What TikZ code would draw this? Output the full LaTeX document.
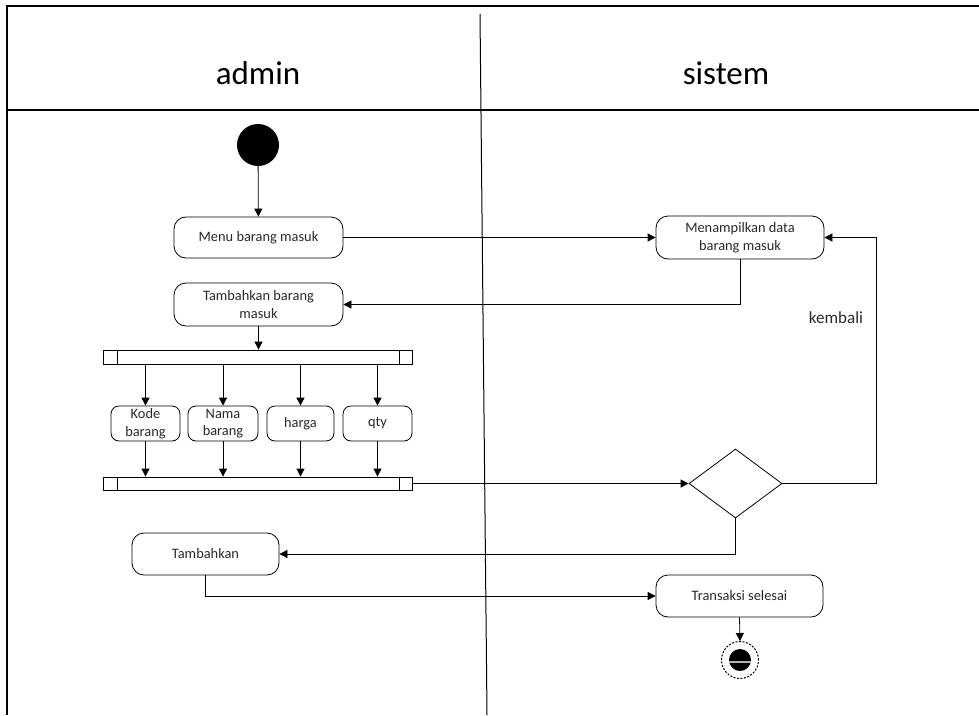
\documentclass[tikz,border=0pt]{standalone}
\usepackage{fontspec}
\setmainfont{Carlito}
\usetikzlibrary{arrows.meta,shapes.geometric}
\definecolor{txt}{RGB}{40,40,40}
\tikzset{
  act/.style={draw, line width=0.8pt, rounded corners=12pt, align=center, text=txt,
    font=\fontsize{14.4}{17.5}\selectfont, inner sep=0pt},
  small/.style={draw, line width=0.8pt, rounded corners=8pt, align=center, text=txt,
    font=\fontsize{14.4}{17.5}\selectfont, inner sep=0pt, minimum height=35pt},
  bar/.style={draw, line width=0.8pt, inner sep=0pt, minimum width=309pt},
  flow/.style={line width=0.8pt, -{Triangle[length=8pt,width=8pt]}},
  plain/.style={line width=0.8pt},
  lane/.style={font=\fontsize{33}{38}\selectfont, text=black}
}
\begin{document}
\begin{tikzpicture}[x=1pt,y=-1pt]
\useasboundingbox (0,0) rectangle (979,715);
% frame
\draw[line width=2.2pt] (7,715) -- (7,6) -- (979,6);
\draw[line width=1.3pt] (7,110) -- (979,110);
\draw[line width=1pt] (480,14) -- (487,715);
\node[lane] (ladmin) at (258,73) {admin};
\node[lane] (lsistem) at (726,73) {sistem};
% nodes
\node[circle, fill=black, minimum size=42pt, inner sep=0pt] (start) at (258,145) {};
\node[act, minimum width=169pt, minimum height=41pt] (menu) at (258.5,237.5) {Menu barang masuk};
\node[act, minimum width=169pt, minimum height=43pt] (tambah1) at (258.5,304.5) {Tambahkan barang\\masuk};
\node[act, minimum width=168pt, minimum height=43pt] (tampil) at (740,237.5) {Menampilkan data\\barang masuk};
\node[bar, minimum height=14pt] (fork1) at (257.5,357) {};
\draw[plain] (117,350) -- (117,364) (399,350) -- (399,364);
\node[small, minimum width=69pt] (kode) at (145.5,423.5) {Kode\\barang};
\node[small, minimum width=70pt] (nama) at (223,423.5) {Nama\\barang};
\node[small, minimum width=67pt] (harga) at (300.5,423.5) {harga};
\node[small, minimum width=69pt] (qty) at (377.5,423.5) {qty};
\node[bar, minimum height=13pt] (fork2) at (257.5,483.5) {};
\draw[plain] (117,477) -- (117,490) (399,477) -- (399,490);
\node[diamond, draw, line width=0.8pt, inner sep=0pt, minimum width=93pt, minimum height=69pt] (dec) at (735.5,483.5) {};
\node[act, minimum width=147pt, minimum height=42pt] (tambah2) at (205.5,554) {Tambahkan};
\node[act, minimum width=167pt, minimum height=42pt] (selesai) at (739.5,596) {Transaksi selesai};
% end node
\node[circle, draw, dashed, dash pattern=on 2pt off 1.5pt, line width=1pt, minimum size=37pt, inner sep=0pt] (end) at (740,660) {};
\fill[black] (740,660) circle (11pt);
\draw[gray!60, line width=1.2pt] (729,662) -- (751,662);
% connectors
\draw[flow] (start) -- (menu);
\draw[flow] (menu.east) -- (tampil.west);
\draw[flow] (tampil.south) |- (tambah1.east);
\draw[flow] (tambah1.south) -- (tambah1.south |- fork1.north);
\foreach \n in {kode,nama,harga,qty}{
  \draw[flow] (\n.north |- fork1.south) -- (\n.north);
  \draw[flow] (\n.south) -- (\n.south |- fork2.north);
}
\draw[flow] (fork2.east) -- (dec.west);
\coordinate (kret) at (876,483.5);
\draw[flow] (dec.east) -- (kret) |- (tampil.east);
\node[font=\fontsize{17}{20}\selectfont, text=txt] (kembali) at (836,318) {kembali};
\draw[flow] (dec.south) |- (tambah2.east);
\draw[flow] (tambah2.south) |- (selesai.west);
\draw[flow] (selesai.south) -- (end.north);
\end{tikzpicture}
\end{document}
